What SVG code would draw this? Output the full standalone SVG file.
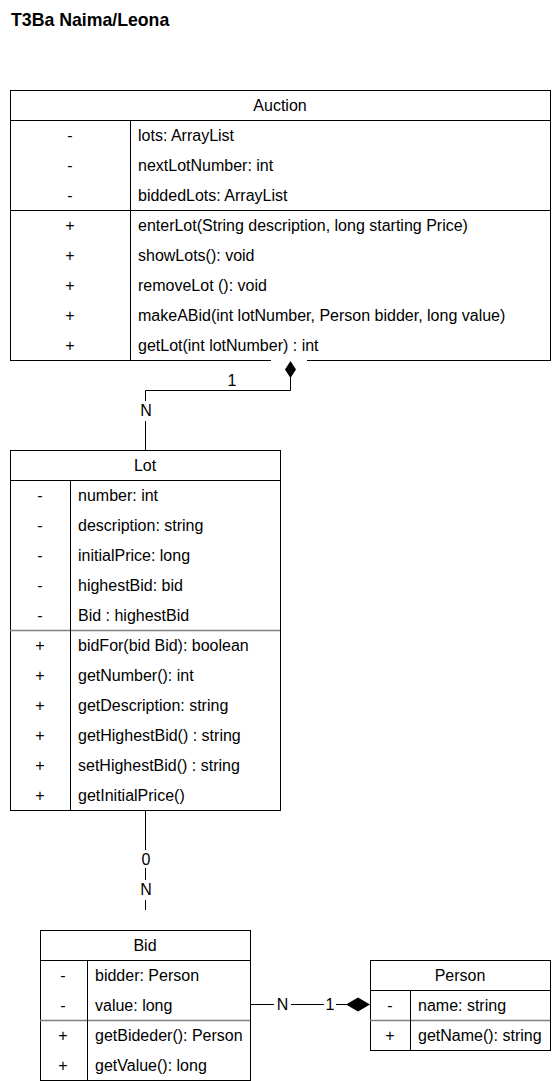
<svg xmlns="http://www.w3.org/2000/svg" width="552" height="1081" viewBox="0 0 552 1081">
<style>
text{font-family:"Liberation Sans",Arial,sans-serif;font-size:16px;fill:#000}
.t{font-weight:bold;font-size:17.7px}
.c{text-anchor:middle}
.box{fill:#fff;stroke:#000;stroke-width:1}
.ln{stroke:#000;stroke-width:1;fill:none}
.gl{stroke:#808080;stroke-width:1.5;fill:none}
.lb{fill:#fff}
</style>
<rect width="552" height="1081" fill="#fff"/>
<text class="t" x="11" y="26">T3Ba Naima/Leona</text>

<g id="Auction">
<rect class="box" x="10.5" y="90.5" width="540" height="270"/>
<line class="ln" x1="10" y1="120.5" x2="550" y2="120.5"/>
<line class="ln" x1="10" y1="210.5" x2="550" y2="210.5"/>
<line class="ln" x1="130.5" y1="120" x2="130.5" y2="360"/>
<text class="c" x="280" y="111">Auction</text>
<text class="c" x="70" y="141">-</text><text x="138" y="141">lots: ArrayList</text>
<text class="c" x="70" y="171">-</text><text x="138" y="171">nextLotNumber: int</text>
<text class="c" x="70" y="201">-</text><text x="138" y="201">biddedLots: ArrayList</text>
<text class="c" x="70" y="231">+</text><text x="138" y="231">enterLot(String description, long starting Price)</text>
<text class="c" x="70" y="261">+</text><text x="138" y="261">showLots(): void</text>
<text class="c" x="70" y="291">+</text><text x="138" y="291">removeLot (): void</text>
<text class="c" x="70" y="321">+</text><text x="138" y="321">makeABid(int lotNumber, Person bidder, long value)</text>
<text class="c" x="70" y="351">+</text><text x="138" y="351">getLot(int lotNumber) : int</text>
</g>

<g id="Lot">
<rect class="box" x="10.5" y="450.5" width="270" height="360"/>
<line class="ln" x1="10" y1="480.5" x2="280" y2="480.5"/>
<line class="gl" x1="10" y1="630.5" x2="280" y2="630.5"/>
<line class="ln" x1="70.5" y1="480" x2="70.5" y2="810"/>
<text class="c" x="145" y="471">Lot</text>
<text class="c" x="40" y="501">-</text><text x="78" y="501">number: int</text>
<text class="c" x="40" y="531">-</text><text x="78" y="531">description: string</text>
<text class="c" x="40" y="561">-</text><text x="78" y="561">initialPrice: long</text>
<text class="c" x="40" y="591">-</text><text x="78" y="591">highestBid: bid</text>
<text class="c" x="40" y="621">-</text><text x="78" y="621">Bid : highestBid</text>
<text class="c" x="40" y="651">+</text><text x="78" y="651">bidFor(bid Bid): boolean</text>
<text class="c" x="40" y="681">+</text><text x="78" y="681">getNumber(): int</text>
<text class="c" x="40" y="711">+</text><text x="78" y="711">getDescription: string</text>
<text class="c" x="40" y="741">+</text><text x="78" y="741">getHighestBid() : string</text>
<text class="c" x="40" y="771">+</text><text x="78" y="771">setHighestBid() : string</text>
<text class="c" x="40" y="801">+</text><text x="78" y="801">getInitialPrice()</text>
</g>

<g id="Bid">
<rect class="box" x="40.5" y="930.5" width="210" height="150"/>
<line class="ln" x1="40" y1="960.5" x2="250" y2="960.5"/>
<line class="gl" x1="40" y1="1020.5" x2="250" y2="1020.5"/>
<line class="ln" x1="87.5" y1="960" x2="87.5" y2="1080"/>
<text class="c" x="145" y="951">Bid</text>
<text class="c" x="63" y="981">-</text><text x="95" y="981">bidder: Person</text>
<text class="c" x="63" y="1011">-</text><text x="95" y="1011">value: long</text>
<text class="c" x="63" y="1041">+</text><text x="95" y="1041">getBideder(): Person</text>
<text class="c" x="63" y="1071">+</text><text x="95" y="1071">getValue(): long</text>
</g>

<g id="Person">
<rect class="box" x="370.5" y="960.5" width="180" height="90"/>
<line class="ln" x1="370" y1="990.5" x2="550" y2="990.5"/>
<line class="gl" x1="370" y1="1020.5" x2="550" y2="1020.5"/>
<line class="ln" x1="410.5" y1="990" x2="410.5" y2="1050"/>
<text class="c" x="460" y="981">Person</text>
<text class="c" x="390" y="1011">-</text><text x="418" y="1011">name: string</text>
<text class="c" x="390" y="1041">+</text><text x="418" y="1041">getName(): string</text>
</g>

<g id="connectors">
<rect x="271" y="358" width="36" height="22" fill="#fff"/>
<polyline class="ln" points="290.5,377 290.5,390.5 145.5,390.5 145.5,450"/>
<polygon points="290.5,361 296,369.5 290.5,378 285,369.5" fill="#000"/>
<text class="c" x="232" y="386">1</text>
<rect class="lb" x="138" y="401" width="16" height="20"/>
<text class="c" x="146" y="416">N</text>

<line class="ln" x1="145.5" y1="810" x2="145.5" y2="910"/>
<rect class="lb" x="138" y="850" width="16" height="18"/>
<text class="c" x="146" y="865">0</text>
<rect class="lb" x="138" y="880" width="16" height="20"/>
<text class="c" x="146" y="895">N</text>

<line class="ln" x1="250" y1="1004.5" x2="347" y2="1004.5"/>
<rect class="lb" x="274" y="995" width="17" height="18"/>
<text class="c" x="282.5" y="1010">N</text>
<rect class="lb" x="324" y="995" width="12" height="18"/>
<text class="c" x="330" y="1010">1</text>
<polygon points="346,1004.5 358,997.5 370,1004.5 358,1011.5" fill="#000"/>
</g>
</svg>
